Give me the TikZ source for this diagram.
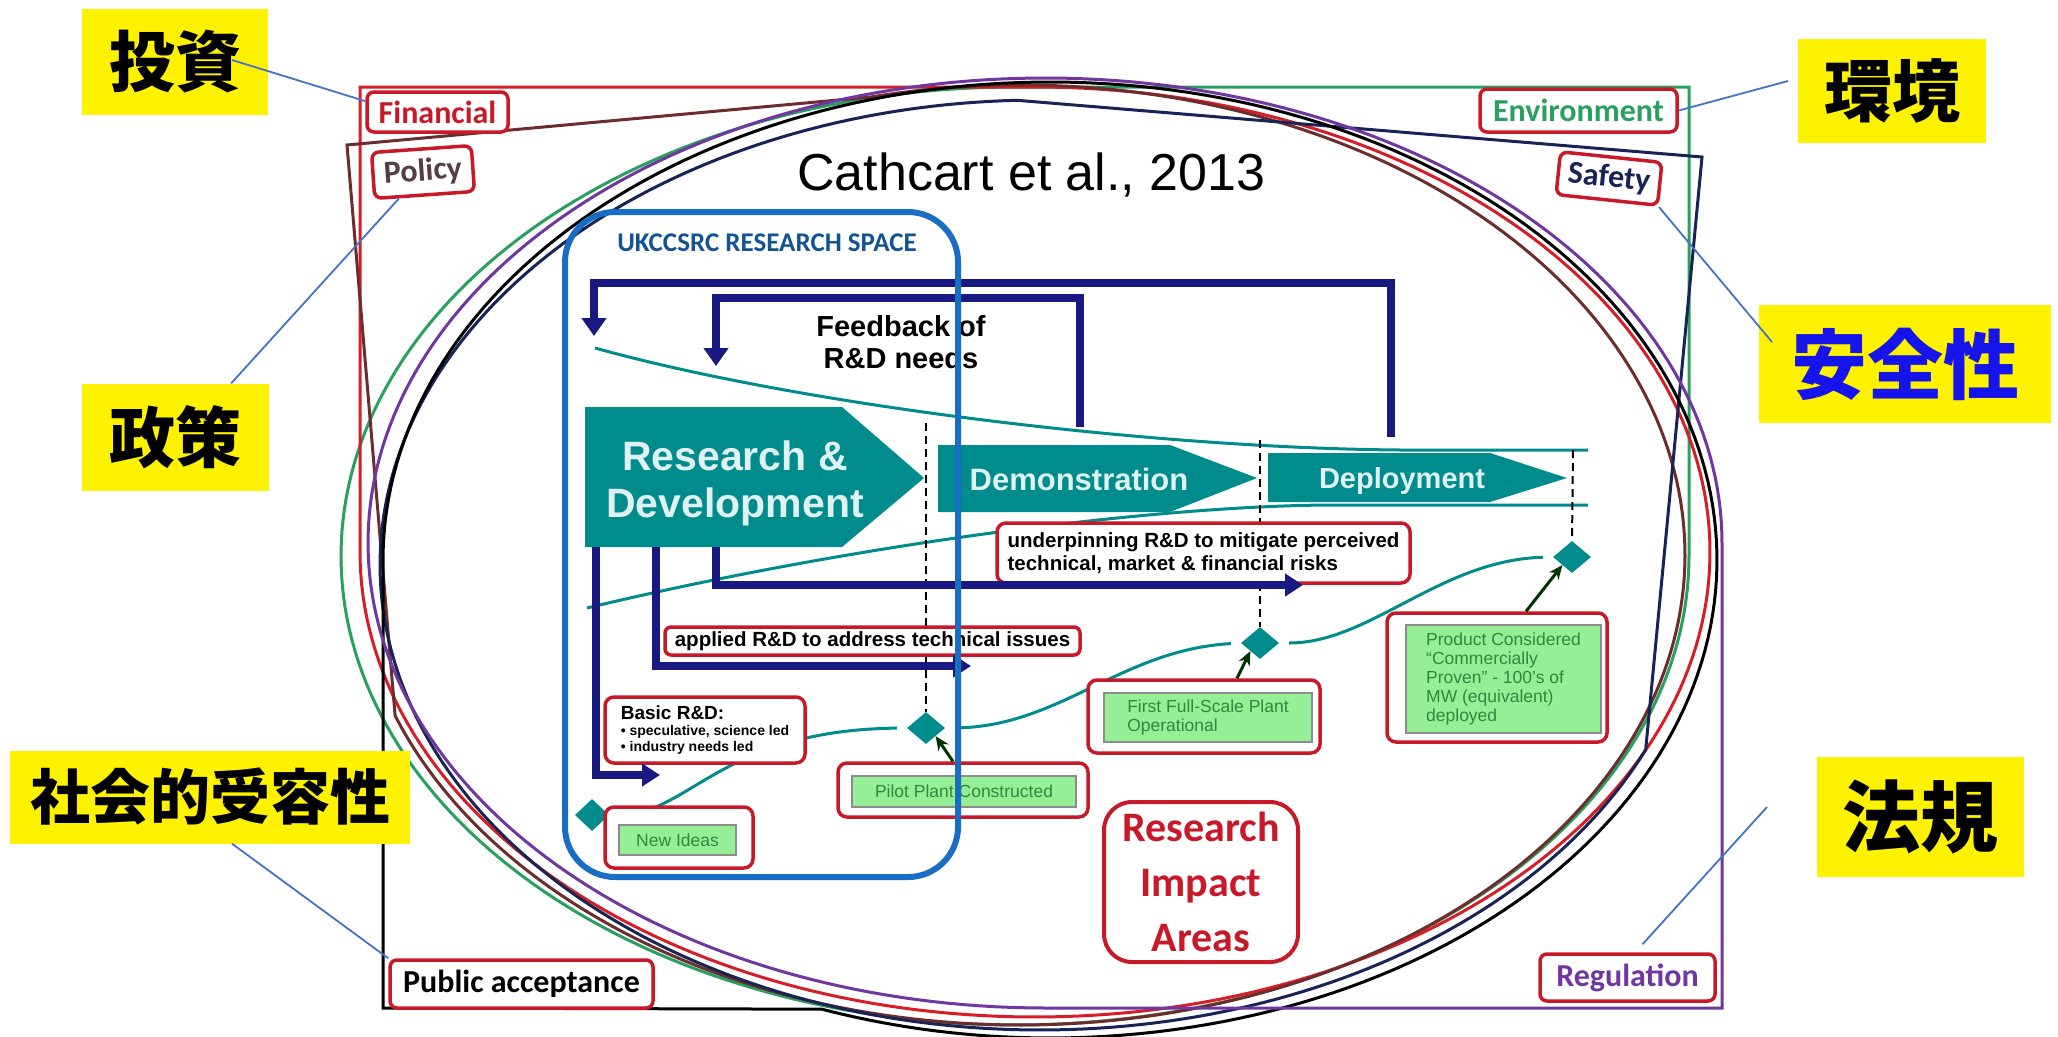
\documentclass[tikz,border=0pt]{standalone}
\usepackage{fontspec}
\setmainfont{Liberation Sans}
\newfontfamily\calfont{Carlito}
\newfontfamily\cjkfont{Noto Sans CJK JP}
\usetikzlibrary{arrows.meta, shapes.geometric, calc}

\definecolor{frred}{RGB}{214,30,40}
\definecolor{frgreen}{RGB}{40,160,95}
\definecolor{frbrown}{RGB}{110,45,45}
\definecolor{frnavy}{RGB}{25,35,85}
\definecolor{frpurple}{RGB}{112,55,160}
\definecolor{policygray}{RGB}{85,60,70}
\definecolor{tealbox}{RGB}{0,140,140}
\definecolor{navyarrow}{RGB}{25,25,130}
\definecolor{spaceblue}{RGB}{25,110,195}
\definecolor{leaderblue}{RGB}{68,114,196}
\definecolor{okgreen}{RGB}{150,238,150}
\definecolor{okgreentext}{RGB}{50,135,60}
\definecolor{labelred}{RGB}{200,25,40}
\definecolor{safeblue}{RGB}{20,20,235}

\begin{document}
\begin{tikzpicture}[x=1pt, y=-1pt,
    frame/.style={line width=3pt, line join=miter},
    area/.style={draw=labelred, line width=3.5pt, fill=white, rounded corners=7pt, inner sep=0pt, font=\calfont\bfseries\fontsize{32}{32}\selectfont},
    jp/.style={fill=yellow, inner sep=0pt},
    leader/.style={leaderblue, line width=1.8pt},
    stage/.style={fill=tealbox, draw=none},
    stagetext/.style={text=white!88!tealbox, inner sep=0pt},
    feedback/.style={navyarrow, line width=8pt, line join=miter, -{Triangle[width=24pt,length=18pt]}},
    funnel/.style={tealbox, line width=3pt},
    gate/.style={black, line width=2pt, dash pattern=on 8pt off 5pt},
    milestone/.style={diamond, fill=tealbox, inner sep=0pt, minimum width=38pt, minimum height=32pt},
    callout/.style={draw=labelred, line width=3.5pt, fill=white, rounded corners=9pt, inner sep=0pt},
    result/.style={draw=black!45, line width=2pt, fill=okgreen, inner sep=0pt, text=okgreentext, align=left, font=\fontsize{17.5}{19}\selectfont},
    pointer/.style={black!80!green, line width=3pt, -{Stealth[length=14pt,width=12pt]}}
  ]
  \useasboundingbox[fill=white] (0,0) rectangle (2058,1036);

  % impact areas: one ellipse per area, each with a corner pulled out to its label
  \draw[frame, frgreen] plot[domain=0:270, samples=200] ({1015+674*cos(\x)},{556+469*sin(\x)}) -- (1689,87) -- cycle;
  \draw[frame, frred] plot[domain=270:540, samples=200] ({1035+675*cos(\x)},{552+465*sin(\x)}) -- (360,87) -- cycle;
  \draw[frame, frbrown] plot[domain=257:520, samples=200] ({1020+665*cos(\x)},{555+470*sin(\x)}) -- (347,145) -- cycle;
  \draw[frame, frnavy] plot[domain=23.4:268, samples=200] ({1040+660*cos(\x)},{565+465*sin(\x)}) -- (1702,157) -- cycle;
  \draw[frame, black] plot[domain=180:470, samples=200] ({1050+667*cos(\x)},{560+478*sin(\x)}) -- (383,1008) -- cycle;
  \draw[frame, frpurple] plot[domain=90:360, samples=200] ({1045+677*cos(\x)},{543+465*sin(\x)}) -- (1722,1008) -- cycle;

  % stages
  \draw[funnel] (595,348) .. controls (800,405) and (1150,448) .. (1400,450) -- (1588,450);
  \draw[funnel] (587,608) .. controls (850,545) and (1150,506) .. (1330,505) -- (1588,505);
  \fill[stage] (585,407) -- (842,407) -- (924,478) -- (842,547) -- (585,547) -- cycle;
  \fill[stage] (938,445) -- (1170,445) -- (1257,478) -- (1170,512) -- (938,512) -- cycle;
  \fill[stage] (1268,453) -- (1490,453) -- (1567,478) -- (1490,502) -- (1268,502) -- cycle;
  \node[stagetext, align=center, font=\bfseries\fontsize{41}{47}\selectfont] (rd) at (735,483) {Research \&\\Development};
  \node[stagetext, anchor=base, font=\bfseries\fontsize{31}{31}\selectfont] (demo) at (1079,490) {Demonstration};
  \node[stagetext, anchor=base, font=\bfseries\fontsize{29}{29}\selectfont] (depl) at (1402,488) {Deployment};

  % feedback loops and R&D strands
  \coordinate (deplfb) at (1391,437);
  \coordinate (demofb) at (1080,427);
  \coordinate (rdbasic) at (596,547);
  \coordinate (rdapplied) at (656,547);
  \coordinate (rdunder) at (716,547);
  \draw[feedback] (deplfb) |- (594,283) -- (594,336);
  \draw[feedback] (demofb) |- (716,298) -- (716,366);
  \node[font=\bfseries\fontsize{29}{32}\selectfont, align=center, inner sep=0pt] (fbtext) at (901,342) {Feedback of\\R\&D needs};

  % milestones
  \node[milestone, minimum width=34pt] (m0) at (592,815) {};
  \node[milestone] (m1) at (926,728) {};
  \node[milestone] (m2) at (1260,643) {};
  \node[milestone] (m3) at (1572,557) {};
  \draw[gate] (926,423) -- (m1.north);
  \draw[gate] (1260,440) -- (m2.north);
  \draw[gate] (1573,450) -- (m3.north);
  \draw[funnel, shorten <=9pt, shorten >=10pt] (m0.east) .. controls (690,815) and (720,730) .. (m1.west);
  \draw[funnel, shorten <=10pt, shorten >=10pt] (m1.east) .. controls (1060,727) and (1120,650) .. (m2.west);
  \draw[funnel, shorten <=10pt, shorten >=10pt] (m2.east) .. controls (1370,643) and (1440,560) .. (m3.west);

  % callouts
  \node[callout, minimum width=413pt, minimum height=60pt, align=left, font=\bfseries\fontsize{20.5}{23}\selectfont] (under) at (1203.5,553) {underpinning R\&D to mitigate perceived\\technical, market \& financial risks};
  \node[callout, rounded corners=6pt, minimum width=415pt, minimum height=28pt, font=\bfseries\fontsize{20.5}{23}\selectfont] (applied) at (872.5,641) {applied R\&D to address technical issues};
  \node[callout, minimum width=200pt, minimum height=66pt, align=left, font=\bfseries\fontsize{14}{16}\selectfont] (basic) at (705,730) {{\fontsize{19}{19}\selectfont Basic R\&D:}\\• speculative, science led\\• industry needs led};
  \draw[feedback, -{Triangle[width=22pt,length=18pt]}] (rdbasic) |- (660,775);
  \draw[feedback, -{Triangle[width=22pt,length=18pt]}] (rdapplied) |- (971,666);
  \draw[feedback, -{Triangle[width=22pt,length=18pt]}] (rdunder) |- (1303,585);

  \node[callout, minimum width=148pt, minimum height=61pt] (ideasbox) at (679,837.5) {};
  \node[result, minimum width=117pt, minimum height=30pt] (ideas) at (677.5,840) {New Ideas};
  \node[callout, minimum width=250pt, minimum height=54pt] (pilotbox) at (963,790) {};
  \node[result, minimum width=224pt, minimum height=31pt] (pilot) at (964,791.5) {Pilot Plant Constructed};
  \node[callout, minimum width=232pt, minimum height=73pt] (firstbox) at (1204,716.5) {};
  \node[result, minimum width=208pt, minimum height=49pt] (first) at (1208,717.5) {First Full-Scale Plant\\Operational};
  \node[callout, minimum width=220pt, minimum height=129pt] (productbox) at (1497,677.5) {};
  \node[result, minimum width=195pt, minimum height=108pt] (product) at (1503.5,679) {Product Considered\\“Commercially\\Proven” - 100's of\\MW (equivalent)\\deployed};
  \draw[pointer] ($(pilotbox.north west)!0.46!(pilotbox.north east)$) -- (m1.south east);
  \draw[pointer] ($(firstbox.north west)!0.64!(firstbox.north east)$) -- (m2.south west);
  \draw[pointer] ($(productbox.north west)!0.63!(productbox.north east)$) -- (m3.south west);

  % UKCCSRC research space
  \draw[spaceblue, line width=6pt, rounded corners=50pt] (565,212) rectangle (958,877);
  \node[text=spaceblue!75!black, inner sep=0pt, font=\calfont\bfseries\fontsize{27}{27}\selectfont] (space) at (767,243) {UKCCSRC RESEARCH SPACE};

  \node[callout, line width=4pt, rounded corners=28pt, minimum width=194pt, minimum height=160pt, text=labelred, align=center, font=\calfont\bfseries\fontsize{42}{55}\selectfont] (impact) at (1201,882) {Research\\Impact\\Areas};
  \node[anchor=base west, inner sep=0pt, font=\fontsize{52}{52}\selectfont] (cite) at (797,190) {Cathcart et al., 2013};

  % area labels
  \node[area, text=labelred, minimum width=141pt, minimum height=40pt] (fin) at (437.5,112) {Financial};
  \node[area, text=policygray, minimum width=100pt, minimum height=46pt, rotate=4] (pol) at (423,172) {Policy};
  \node[area, text=frgreen, minimum width=197pt, minimum height=43pt] (env) at (1578.5,110.5) {Environment};
  \node[area, text=frnavy, minimum width=102pt, minimum height=43pt, rotate=-6] (saf) at (1609,178.5) {Safety};
  \node[area, text=black, minimum width=263pt, minimum height=48pt] (pub) at (521.5,984) {Public acceptance};
  \node[area, text=frpurple, minimum width=175pt, minimum height=47pt] (reg) at (1627.5,977.5) {Regulation};

  % Japanese terms
  \node[jp, minimum width=186pt, minimum height=106pt, font=\cjkfont\bfseries\fontsize{66}{66}\selectfont] (tz) at (175,62) {投資};
  \node[jp, minimum width=188pt, minimum height=104pt, font=\cjkfont\bfseries\fontsize{68}{68}\selectfont] (kk) at (1892,91) {環境};
  \node[jp, minimum width=187pt, minimum height=107pt, font=\cjkfont\bfseries\fontsize{66}{66}\selectfont] (ss) at (175,437) {政策};
  \node[jp, text=safeblue, minimum width=292pt, minimum height=118pt, font=\cjkfont\bfseries\fontsize{76}{76}\selectfont] (an) at (1905,364) {安全性};
  \node[jp, minimum width=400pt, minimum height=93pt, font=\cjkfont\bfseries\fontsize{60}{60}\selectfont] (sh) at (210,797) {社会的受容性};
  \node[jp, minimum width=207pt, minimum height=120pt, font=\cjkfont\bfseries\fontsize{78}{78}\selectfont] (hk) at (1920,817) {法規};

  \coordinate (tzend) at (232,60);
  \coordinate (anend) at (1772,342);
  \coordinate (hkend) at (1767,807);
  \coordinate (kkend) at (1788,81);
  \draw[leader] (tzend) -- ($(fin.north west)!0.25!(fin.south west)$);
  \draw[leader] ($(ss.north west)!0.8!(ss.north east)$) -- ($(pol.south west)!0.25!(pol.south east)$);
  \draw[leader] (env.east) -- (kkend);
  \draw[leader] (saf.south east) -- (anend);
  \draw[leader] ($(sh.south west)!0.555!(sh.south east)$) -- (pub.north west);
  \draw[leader] (hkend) -- ($(reg.north)+(15,-8)$);
\end{tikzpicture}
\end{document}
